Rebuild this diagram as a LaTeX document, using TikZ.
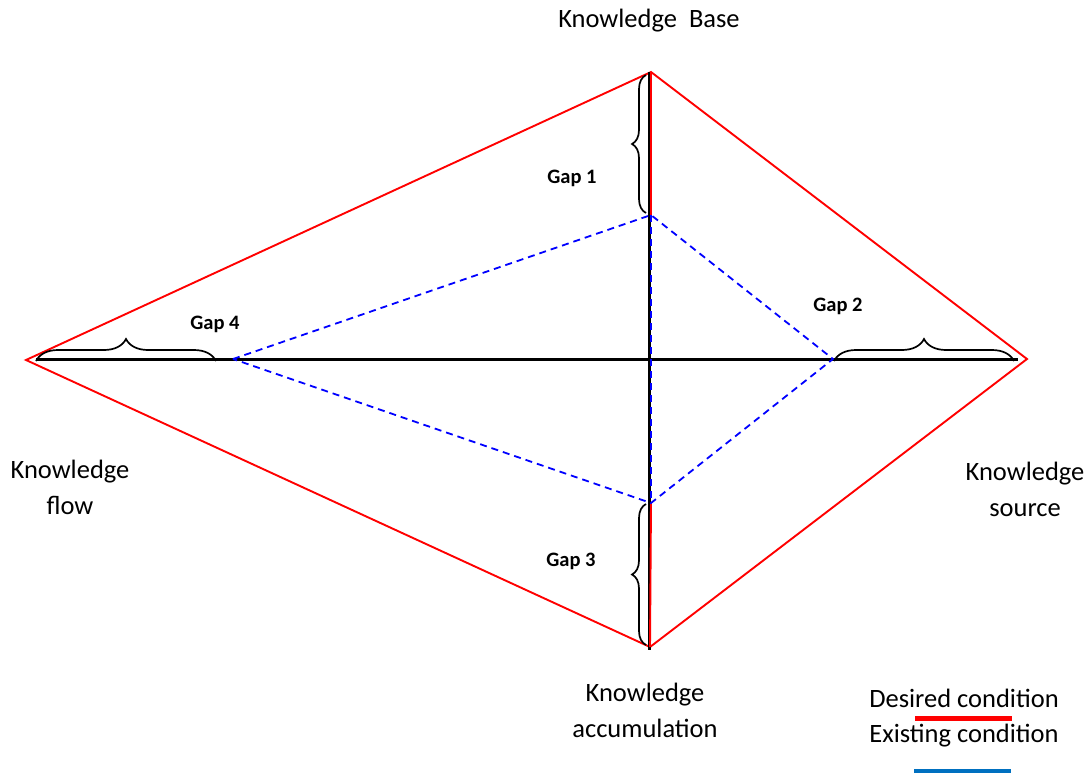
\documentclass[tikz,border=0pt]{standalone}
\usepackage{fontspec}
\setmainfont{Carlito}
\usetikzlibrary{decorations.pathreplacing}
\definecolor{legblue}{RGB}{0,112,192}
\tikzset{
  outer/.style={draw=red, line width=1.9pt},
  axis/.style={draw=black, line width=3pt},
  inner/.style={draw=blue, line width=1.8pt, dash pattern=on 7pt off 5pt},
  gapbrace/.style={draw=black, line width=1.7pt, decorate, decoration={brace, amplitude=#1}},
  gaplabel/.style={font=\fontsize{20.5}{24}\selectfont\bfseries},
  lbl/.style={font=\fontsize{26.5}{36}\selectfont, align=center}
}
\begin{document}
\begin{tikzpicture}[x=1pt,y=-1pt]
\useasboundingbox (0,0) rectangle (1089,773);
% outer apexes
\coordinate (T) at (651,72);
\coordinate (L) at (26,360);
\coordinate (R) at (1027,359);
\coordinate (B) at (650,647);
% inner apexes
\coordinate (iT) at (651,215);
\coordinate (iR) at (833,359);
\coordinate (iB) at (651,503);
\coordinate (iL) at (233,359);
% axis ends
\coordinate (aT) at (649,72);
\coordinate (aB) at (649,650);
\coordinate (aL) at (36,359);
\coordinate (aR) at (1018,359);
% outer diamond
\draw[outer] (L) -- (T) -- (R) -- (B) -- cycle;
% axes
\draw[axis] (aL) -- (aR);
\draw[axis] (aT) -- (aB);
% red desired parts of vertical axis
\draw[outer] (T) -- (iT);
\draw[outer] (iB) -- (B);
% inner dashed diamond
\draw[inner] (iL) -- (iT) -- (iR) -- (iB) -- cycle;
\draw[inner] (iT) -- (iB);
% braces
\coordinate (g1a) at (646,213);
\coordinate (g1b) at (646,75);
\coordinate (g3a) at (646,645);
\coordinate (g3b) at (646,504);
\coordinate (g4a) at (36,361);
\coordinate (g4b) at (216,361);
\coordinate (g2a) at (834,361);
\coordinate (g2b) at (1014,361);
\draw[gapbrace=14pt] (g1a) -- (g1b);
\draw[gapbrace=14pt] (g3a) -- (g3b);
\draw[gapbrace=22pt] (g4a) -- (g4b);
\draw[gapbrace=22pt] (g2a) -- (g2b);
% gap labels
\node[gaplabel] (gap1) at (572,178) {Gap 1};
\node[gaplabel] (gap2) at (838,306) {Gap 2};
\node[gaplabel] (gap3) at (571,561) {Gap 3};
\node[gaplabel] (gap4) at (215,324) {Gap 4};
% vertex labels
\node[lbl] (kb) at (649,21) {Knowledge\ \ Base};
\node[lbl] (kf) at (70,487) {Knowledge\\flow};
\node[lbl] (ks) at (1025,489) {Knowledge\\source};
\node[lbl] (ka) at (645,710) {Knowledge\\accumulation};
% legend
\node[lbl] (des) at (964,698) {Desired condition};
\node[lbl] (ex) at (964,736) {Existing condition};
\coordinate (r1) at (915,718);
\coordinate (r2) at (1012,718);
\coordinate (b1) at (914,771);
\coordinate (b2) at (1011,771);
\draw[red, line width=5pt] (r1) -- (r2);
\draw[legblue, line width=5pt] (b1) -- (b2);
\end{tikzpicture}
\end{document}
